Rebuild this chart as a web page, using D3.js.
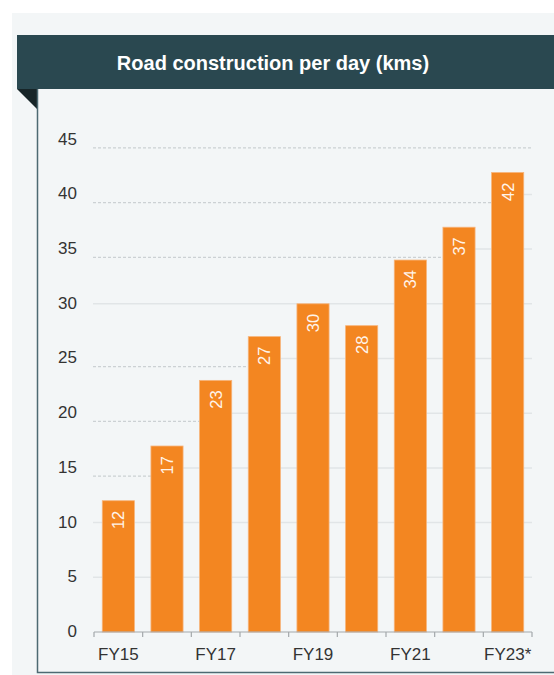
<!DOCTYPE html>
<html>
<head>
<meta charset="utf-8">
<script src="https://cdn.jsdelivr.net/npm/d3@7"></script>
<style>
  body { margin: 0; background: #fff; }
  text { font-family: "Liberation Sans", Arial, sans-serif; }
</style>
</head>
<body>
<div id="chart"></div>
<script>
var years = ["FY15", "FY16", "FY17", "FY18", "FY19", "FY20", "FY21", "FY22", "FY23*"]
var kmsPerDay = [12, 17, 23, 27, 30, 28, 34, 37, 42]
var yTicks = [0, 5, 10, 15, 20, 25, 30, 35, 40, 45]
var dottedTicks = [15, 20, 25, 35, 40, 45]   // these show as dotted, shifted lines in the upper left
var shownYears = ["FY15", "FY17", "FY19", "FY21", "FY23*"]

var W = 554, H = 675
var svg = d3.select("#chart").append("svg")
  .attr("width", W)
  .attr("height", H)

// panel + header
svg.append("rect").attr("x", 12).attr("y", 13).attr("width", W - 12).attr("height", H - 13).attr("fill", "#f3f6f7")
svg.append("rect").attr("x", 17).attr("y", 35).attr("width", W - 17).attr("height", 54).attr("fill", "#2a4850")
svg.append("path").attr("d", "M17,89 L37,89 L37,109 Z").attr("fill", "#172528")
svg.append("text")
  .attr("x", 273).attr("y", 69.5)
  .attr("text-anchor", "middle")
  .attr("fill", "#fff")
  .attr("font-size", 20)
  .attr("font-weight", "bold")
  .text("Road construction per day (kms)")

// chart frame (left + bottom)
svg.append("path")
  .attr("d", "M37.5,89 L37.5,672.5 L" + W + ",672.5")
  .attr("fill", "none").attr("stroke", "#4d6a72").attr("stroke-width", 1.5)

var x = d3.scaleBand().domain(years).range([94, 532]).paddingInner(0.34).paddingOuter(0.17)
var y = d3.scaleLinear().domain([0, 45]).range([632, 139.7])
var step = x.step()
var left = 93, right = 532

function firstTaller(t) {
  var i = kmsPerDay.findIndex(v => v > t)
  return i < 0 ? null : years[i]
}

var grid = svg.append("g")
yTicks.filter(t => t > 0).forEach(function(t) {
  var dotted = dottedTicks.indexOf(t) >= 0
  var c = firstTaller(t)
  var split = dotted ? (c ? x(c) : right) : left
  if (dotted) {
    grid.append("line")
      .attr("x1", left).attr("x2", split)
      .attr("y1", y(t - 0.75)).attr("y2", y(t - 0.75))
      .attr("stroke", "#ccd1d4").attr("stroke-width", 1.2)
      .attr("stroke-dasharray", "3,2")
  }
  if (split < right) {
    grid.append("line")
      .attr("x1", split).attr("x2", right)
      .attr("y1", y(t)).attr("y2", y(t))
      .attr("stroke", "#e1e5e7").attr("stroke-width", 1.5)
  }
})

// y labels
svg.append("g").selectAll("text").data(yTicks).enter()
  .append("text")
  .attr("x", 77).attr("y", d => y(d) - 1)
  .attr("dy", "0.35em")
  .attr("text-anchor", "end")
  .attr("font-size", 17)
  .attr("fill", "#333")
  .text(d => d)

// bars
svg.append("g").selectAll("rect").data(kmsPerDay).enter()
  .append("rect")
  .attr("x", (d, i) => x(years[i]))
  .attr("y", d => y(d))
  .attr("width", x.bandwidth())
  .attr("height", d => y(0) - y(d))
  .attr("fill", "#f38621")
  .attr("stroke", "#f7b47a").attr("stroke-width", 0.8)

// value labels
svg.append("g").selectAll("text").data(kmsPerDay).enter()
  .append("text")
  .attr("transform", (d, i) => "translate(" + (x(years[i]) + x.bandwidth() / 2) + "," + (y(d) + 10) + ") rotate(-90)")
  .attr("dy", "0.36em")
  .attr("text-anchor", "end")
  .attr("font-size", 16.5)
  .attr("fill", "#fff4ea")
  .text(d => d)

// x axis
var ax = svg.append("g")
ax.append("line").attr("x1", 94).attr("x2", 532).attr("y1", 632).attr("y2", 632)
  .attr("stroke", "#a3a8ab").attr("stroke-width", 1.2)
var bounds = years.map(c => x(c) - step * 0.17).concat([532])
ax.selectAll(".tk").data(bounds).enter()
  .append("line")
  .attr("x1", d => d).attr("x2", d => d)
  .attr("y1", 632).attr("y2", 637)
  .attr("stroke", "#a3a8ab").attr("stroke-width", 1.2)
ax.selectAll(".lbl").data(shownYears).enter()
  .append("text")
  .attr("x", d => x(d) + x.bandwidth() / 2)
  .attr("y", 660)
  .attr("text-anchor", "middle")
  .attr("font-size", 17)
  .attr("fill", "#333")
  .text(d => d)
</script>
</body>
</html>
